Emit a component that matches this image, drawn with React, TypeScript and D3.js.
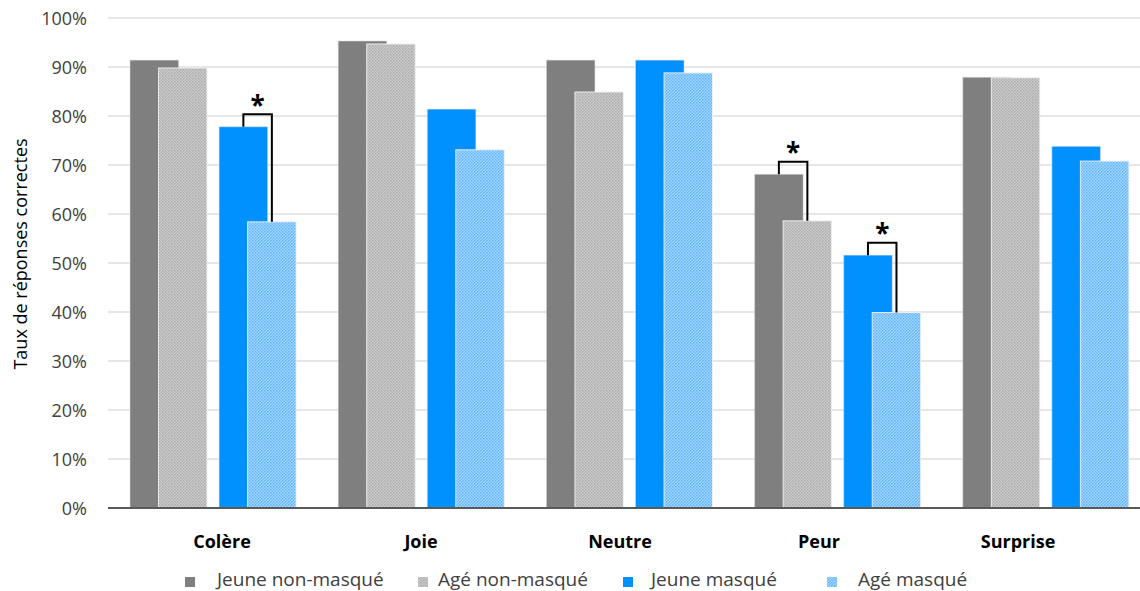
import React from "react";
import * as d3 from "d3";

const categories = ["Colère", "Joie", "Neutre", "Peur", "Surprise"];
const seriesNames = ["Jeune non-masqué", "Agé non-masqué", "Jeune masqué", "Agé masqué"];
const jeuneNonMasque = [91.4, 95.3, 91.4, 68.1, 87.9];
const ageNonMasque = [89.8, 94.7, 84.9, 58.6, 87.8];
const jeuneMasque = [77.8, 81.4, 91.4, 51.6, 73.8];
const ageMasque = [58.4, 73.1, 88.8, 39.9, 70.8];
const yTicks = [0, 10, 20, 30, 40, 50, 60, 70, 80, 90, 100];
const significance = [
  { category: "Colère", a: 2, b: 3 },
  { category: "Peur", a: 0, b: 1 },
  { category: "Peur", a: 2, b: 3 },
];

const W = 1140;
const H = 591;
const FONT = "'Open Sans', 'Noto Sans', sans-serif";

export default function App() {
  const allSeries = [jeuneNonMasque, ageNonMasque, jeuneMasque, ageMasque];
  const y = d3.scaleLinear().domain([0, 100]).range([508, 18]);
  const xGroup = d3.scaleBand<string>().domain(categories).range([109, 1150]).padding(0);
  const pairScale = d3
    .scaleBand<number>()
    .domain([0, 1])
    .range([0, xGroup.bandwidth()])
    .paddingInner(0.135)
    .paddingOuter(0.236);
  const barW = 48.5;
  const shift = 28.5;
  const labelX = d3.scalePoint<string>().domain(categories).range([222, 1018]);

  const barX = (ci: number, si: number) =>
    (xGroup(categories[ci]) as number) + (pairScale(Math.floor(si / 2)) as number) + (si % 2) * shift;

  const fills = ["#7f7f7f", "url(#patGray)", "#0091ff", "url(#patBlue)"];

  const legendSquareX = [185, 418, 623, 827];
  const legendTextX = [217, 438, 651, 858];

  return (
    <svg width={W} height={H} style={{ position: "absolute", left: 0, top: 0, background: "#fff" }} fontFamily={FONT}>
      <defs>
        <pattern id="patGray" width="3" height="3" patternUnits="userSpaceOnUse">
          <rect width="3" height="3" fill="#cdcdcd" />
          <rect width="1.5" height="1.5" fill="#a9a9a9" />
          <rect x="1.5" y="1.5" width="1.5" height="1.5" fill="#b3b3b3" />
        </pattern>
        <pattern id="patBlue" width="3" height="3" patternUnits="userSpaceOnUse">
          <rect width="3" height="3" fill="#a6d6ff" />
          <rect width="1.5" height="1.5" fill="#5cb4ff" />
          <rect x="1.5" y="1.5" width="1.5" height="1.5" fill="#6cbcff" />
        </pattern>
      </defs>
      <rect width={W} height={H} fill="#fff" />
      {yTicks.map((t) => (
        <line key={t} x1={108} x2={W} y1={y(t)} y2={y(t)} stroke="#dedede" strokeWidth={1.5} />
      ))}
      {yTicks.map((t) => (
        <text key={"l" + t} x={87} y={y(t) + 7} textAnchor="end" fontSize={18} fill="#404040">
          {t + "%"}
        </text>
      ))}
      {categories.map((c, ci) =>
        allSeries.map((s, si) => (
          <rect
            key={c + si}
            x={barX(ci, si)}
            y={y(s[ci])}
            width={barW}
            height={y(0) - y(s[ci])}
            fill={fills[si]}
            stroke={si % 2 === 1 ? "#f2f2f2" : "#d9d9d9"}
            strokeOpacity={si % 2 === 1 ? 0.9 : 0.5}
            strokeWidth={1}
          />
        ))
      )}
      <line x1={108} x2={W} y1={y(0)} y2={y(0)} stroke="#595959" strokeWidth={2} />
      {significance.map((sg, i) => {
        const ci = categories.indexOf(sg.category);
        const xa = barX(ci, sg.a) + barW / 2;
        const xb = barX(ci, sg.b) + barW / 2;
        const va = allSeries[sg.a][ci];
        const vb = allSeries[sg.b][ci];
        const top = y(Math.max(va, vb)) - 12.5;
        return (
          <g key={"sig" + i}>
            <path
              d={`M${xa},${y(va)}V${top}H${xb}V${y(vb)}`}
              fill="none"
              stroke="#000"
              strokeWidth={2}
            />
            <text x={(xa + xb) / 2} y={top + 0.5} textAnchor="middle" fontSize={26} fontWeight="bold" fill="#000">
              *
            </text>
          </g>
        );
      })}
      {categories.map((c) => (
        <text key={"c" + c} x={labelX(c)} y={548} textAnchor="middle" fontSize={18} fontWeight="bold" fill="#000">
          {c}
        </text>
      ))}
      <text transform={`translate(27,254) rotate(-90)`} textAnchor="middle" fontSize={18} fill="#000">
        Taux de réponses correctes
      </text>
      {seriesNames.map((n, i) => (
        <g key={"lg" + i}>
          <rect x={legendSquareX[i]} y={577} width={10} height={10} fill={fills[i]} />
          <text x={legendTextX[i]} y={586} fontSize={19} fill="#404040">
            {n}
          </text>
        </g>
      ))}
    </svg>
  );
}
